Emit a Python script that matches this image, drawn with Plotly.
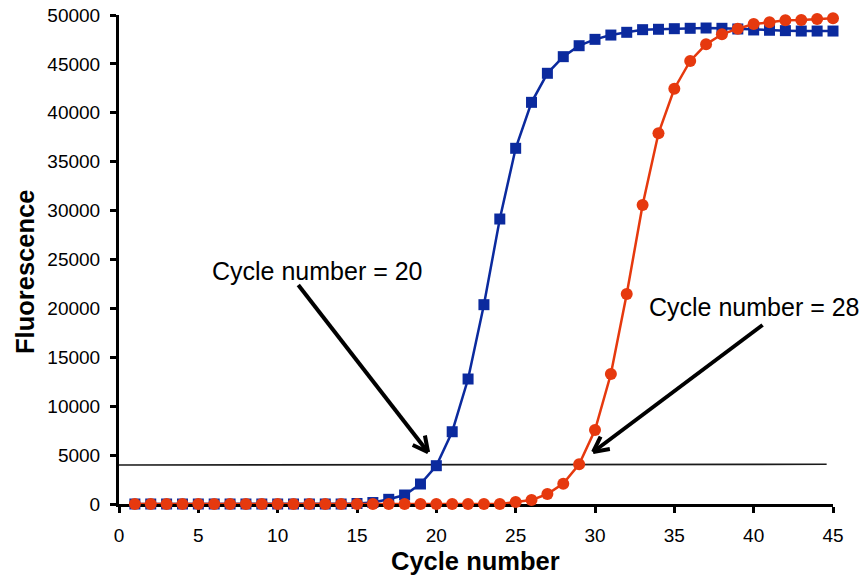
import math
import plotly.graph_objects as go

# ---- data ----
cycles = list(range(1, 46))
sample_a = [0, 0, 0, 0, 0, 0, 0, 0, 0, 0, 0, 0, 0, 0, 50, 150, 480, 920, 2045,
            3916, 7390, 12780, 20380, 29140, 36370, 41070, 44040, 45740, 46860,
            47510, 47950, 48230, 48500, 48540, 48600, 48640, 48670, 48640, 48570,
            48470, 48440, 48400, 48360, 48360, 48360]
sample_b = [0, 0, 0, 0, 0, 0, 0, 0, 0, 0, 0, 0, 0, 0, 0, 0, 0, 0, 0, 0, 0, 0,
            0, 0, 200, 400, 1020, 2080, 4060, 7570, 13290, 21470, 30570, 37900,
            42460, 45300, 47000, 48030, 48600, 49080, 49250, 49460, 49490, 49590,
            49660]
threshold_x = [0, 44.6]
threshold_y = [3990, 4060]

label_texts = ["Cycle number = 20", "Cycle number = 28"]
label_pos = [(12.54, 23855), (40.07, 20113)]
arrow_tails = [(11.30, 22393), (40.56, 18303)]
arrow_heads = [(19.48, 5297), (29.88, 5317)]

x_ticks = list(range(0, 46, 5))
y_ticks = list(range(0, 50001, 5000))

# ---- layout geometry ----
W, H = 864, 575
ML, MR, MT, MB = 119, 31, 15, 71
XR = [0, 45]
YR = [0, 50000]
PW, PH = W - ML - MR, H - MT - MB
sx = PW / (XR[1] - XR[0])
sy = PH / (YR[1] - YR[0])

FONT = "Liberation Sans, Arial, sans-serif"
BLUE = "#0B2A9E"
RED = "#E6390E"

fig = go.Figure()
fig.add_trace(go.Scatter(x=threshold_x, y=threshold_y, mode="lines",
                         line=dict(color="#1a1a1a", width=1.6),
                         hoverinfo="skip", showlegend=False, cliponaxis=False))
fig.add_trace(go.Scatter(x=cycles, y=sample_a, mode="lines+markers",
                         line=dict(color=BLUE, width=2.5),
                         marker=dict(symbol="square", size=11, color=BLUE),
                         showlegend=False, cliponaxis=False))
fig.add_trace(go.Scatter(x=cycles, y=sample_b, mode="lines+markers",
                         line=dict(color=RED, width=2.5),
                         marker=dict(symbol="circle", size=12, color=RED),
                         showlegend=False, cliponaxis=False))

shapes = []
for (tx, ty), (hx, hy) in zip(arrow_tails, arrow_heads):
    shapes.append(dict(type="line", xref="x", yref="y", x0=tx, y0=ty, x1=hx, y1=hy,
                       line=dict(color="black", width=4)))
    # open V head computed in pixel space
    dxp = (hx - tx) * sx
    dyp = -(hy - ty) * sy
    ang = math.atan2(dyp, dxp)
    L = 17
    for off in (math.radians(27), -math.radians(27)):
        a = ang + math.pi + off
        ex = hx + L * math.cos(a) / sx
        ey = hy - L * math.sin(a) / sy
        shapes.append(dict(type="line", xref="x", yref="y", x0=hx, y0=hy, x1=ex, y1=ey,
                           line=dict(color="black", width=4)))

annotations = []
for txt, (lx, ly) in zip(label_texts, label_pos):
    annotations.append(dict(x=lx, y=ly, xref="x", yref="y", text=txt, showarrow=False,
                            font=dict(family=FONT, size=25, color="black"),
                            xanchor="center", yanchor="middle"))
annotations.append(dict(x=(475 - ML) / PW, y=(H - 561 - MB) / PH, xref="paper", yref="paper",
                        text="<b>Cycle number</b>", showarrow=False,
                        font=dict(family=FONT, size=25.5, color="black"),
                        xanchor="center", yanchor="middle"))
annotations.append(dict(x=(25 - ML) / PW, y=(H - 272 - MB) / PH, xref="paper", yref="paper",
                        text="<b>Fluorescence</b>", showarrow=False, textangle=-90,
                        font=dict(family=FONT, size=25.5, color="black"),
                        xanchor="center", yanchor="middle"))

fig.update_layout(
    width=W, height=H,
    margin=dict(l=ML, r=MR, t=MT, b=MB, pad=0),
    paper_bgcolor="white", plot_bgcolor="white",
    font=dict(family=FONT, size=19, color="black"),
    shapes=shapes, annotations=annotations,
    xaxis=dict(range=XR, tickvals=x_ticks, ticktext=[str(v) for v in x_ticks],
               showgrid=False, zeroline=False, showline=True, linecolor="black",
               linewidth=3, ticks="outside", ticklen=6, tickwidth=3, tickcolor="black",
               tickfont=dict(family=FONT, size=19, color="black"), layer="below traces",
               automargin=False, ticklabelstandoff=6),
    yaxis=dict(range=YR, tickvals=y_ticks, ticktext=[str(v) for v in y_ticks],
               showgrid=False, zeroline=False, showline=True, linecolor="black",
               linewidth=3, ticks="outside", ticklen=6, tickwidth=3, tickcolor="black",
               tickfont=dict(family=FONT, size=19, color="black"), layer="below traces",
               automargin=False, ticklabelstandoff=6),
)

fig.write_html("out.html", config={"displayModeBar": False},
               post_script="document.body.style.margin='0';document.body.style.overflow='hidden';")
